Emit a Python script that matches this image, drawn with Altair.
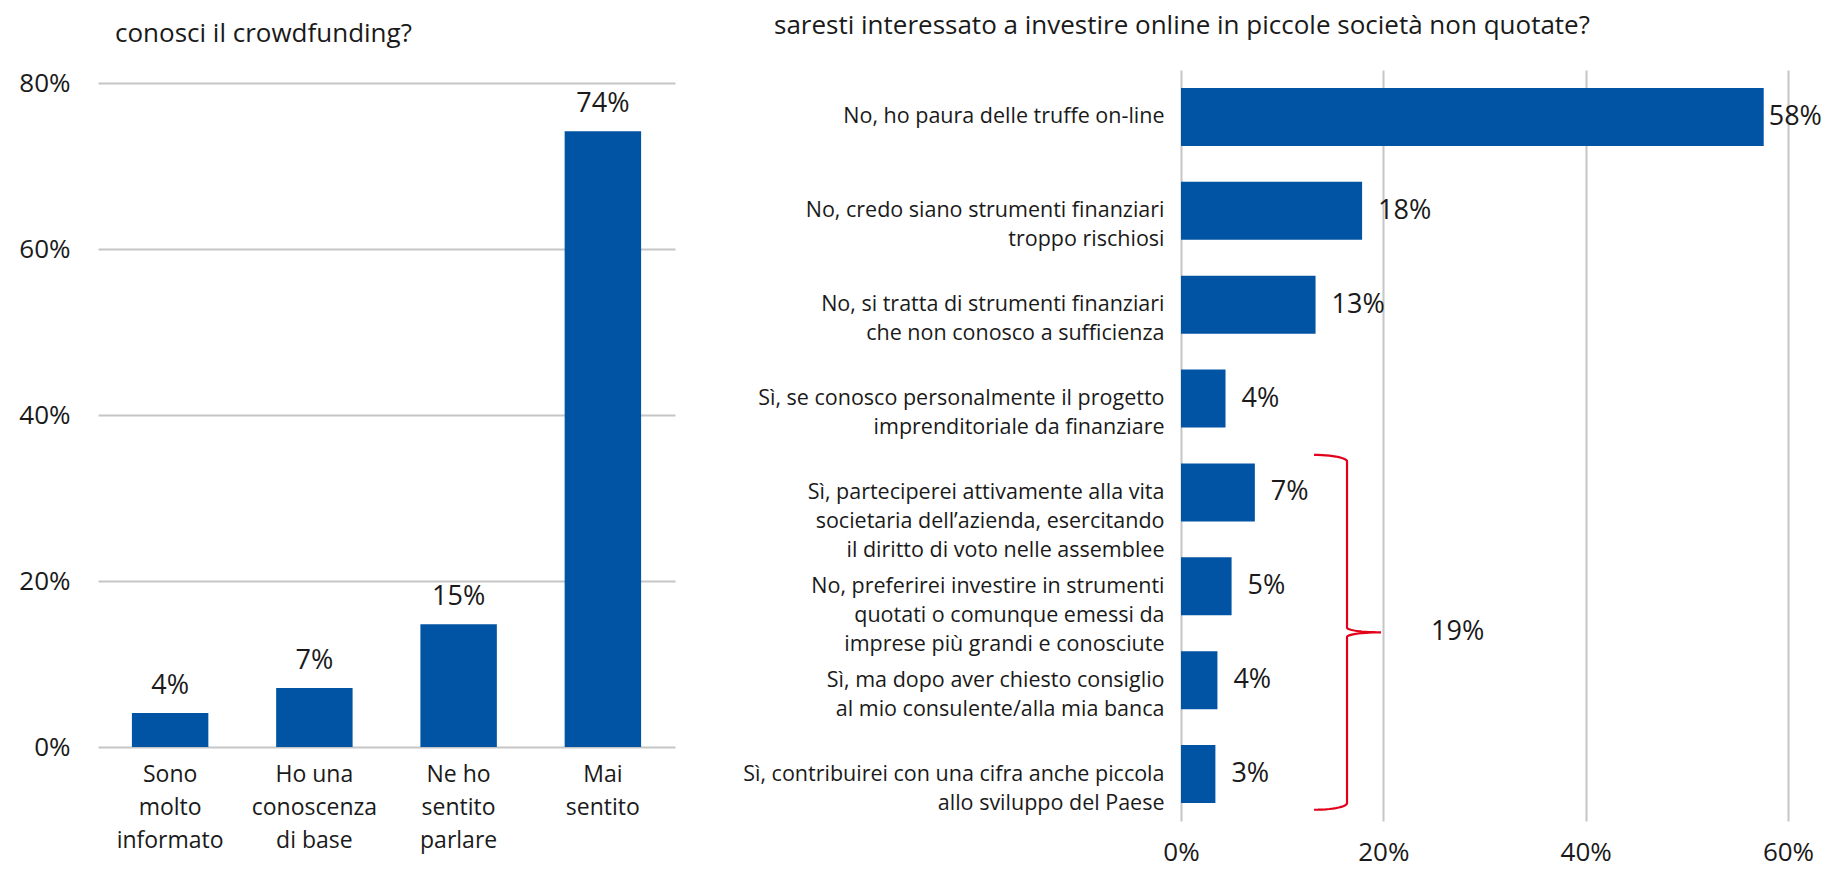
import json
import altair as alt
import pandas as pd
import numpy as np

# ---------------- data ----------------
know_cats = ["Sono|molto|informato", "Ho una|conoscenza|di base", "Ne ho|sentito|parlare", "Mai|sentito"]
know_vals = [0.041, 0.071, 0.148, 0.742]

invest_cats = [
    "No, ho paura delle truffe on-line",
    "No, credo siano strumenti finanziari|troppo rischiosi\u00a0\u00a0",
    "No, si tratta di strumenti finanziari|che non conosco a sufficienza",
    "Sì, se conosco personalmente il progetto|imprenditoriale da finanziare",
    "Sì, parteciperei attivamente alla vita|societaria dell’azienda, esercitando|il diritto di voto nelle assemblee\u00a0",
    "No, preferirei investire in strumenti|quotati o comunque emessi da\u00a0|imprese più grandi e conosciute\u00a0",
    "Sì, ma dopo aver chiesto consiglio|al mio consulente/alla mia banca",
    "Sì, contribuirei con una cifra anche piccola|allo sviluppo del Paese\u00a0\u00a0",
]
invest_vals = [0.576, 0.179, 0.133, 0.044, 0.073, 0.050, 0.036, 0.034]

# bracketed group (rows 4..7)
group_first, group_last = 4, 7

BLUE = "#0054A3"
RED = "#E2001A"
TEXT = "#1a1a1a"
GRID = "#c6c6c6"
FONT = "Open Sans"

df_left = pd.DataFrame({"cat": know_cats, "v": know_vals})
n_rows = len(invest_cats)
df_right = pd.DataFrame({"cat": invest_cats, "v": invest_vals, "row": list(range(n_rows))})

# ---------------- left chart ----------------
left_x = alt.X(
    "cat:N", sort=know_cats,
    scale=alt.Scale(paddingInner=0.47, paddingOuter=0.235),
    axis=alt.Axis(title=None, labelExpr="split(datum.label, '|')", labelAngle=0,
                  labelFontSize=23, labelLineHeight=33, labelPadding=16,
                  ticks=False, domain=False, labelColor=TEXT, labelLimit=300),
)
left_y = alt.Y(
    "v:Q",
    scale=alt.Scale(domain=[0, 0.8157], nice=False, zero=True),
    axis=alt.Axis(values=[0, 0.2, 0.4, 0.6, 0.8], format=".0%", title=None,
                  grid=True, gridColor=GRID, gridWidth=2, domain=False, ticks=False,
                  labelPadding=28, labelFontSize=26, labelFlush=False, labelColor=TEXT,
                  minExtent=85, maxExtent=85),
)
left_base = alt.Chart(df_left).encode(x=left_x, y=left_y)
left_bars = left_base.mark_bar(color=BLUE)
left_vals = left_base.mark_text(dy=-27, baseline="middle", fontSize=27, color=TEXT, font=FONT).encode(
    text=alt.Text("v:Q", format=".0%"))
left = alt.layer(left_bars, left_vals).properties(
    width=577, height=677,
    title=alt.TitleParams("conosci il crowdfunding?", anchor="start", frame="group", dx=17,
                          offset=23, fontSize=26, fontWeight="normal", color=TEXT, font=FONT),
)

# ---------------- right chart ----------------
xs = alt.Scale(domain=[0, 0.6], nice=False, zero=True)
yq = alt.Scale(domain=[0, n_rows], reverse=True, nice=False, zero=False)

x_axis = alt.Axis(values=[0, 0.2, 0.4, 0.6], format=".0%", title=None, grid=True,
                  gridColor=GRID, gridWidth=2, domain=False, ticks=False, labelFontSize=26,
                  labelPadding=18, labelFlush=False, labelColor=TEXT)
label_expr = "split(" + json.dumps(invest_cats, ensure_ascii=False) + "[floor(datum.value)], '|')"
y_axis = alt.Axis(values=[i + 0.5 for i in range(n_rows)], labelExpr=label_expr, title=None,
                  labelFontSize=21.5, labelLineHeight=29, labelPadding=17, labelLimit=425,
                  ticks=False, domain=False, grid=False, labelColor=TEXT, minExtent=442,
                  maxExtent=442, labelAlign="right", labelBaseline="middle",
                  labelOverlap=False, labelFlush=False)

pad = 0.191  # band padding (fraction of a row) on each side of a bar
rbase = alt.Chart(df_right).transform_calculate(
    r0=f"datum.row + {pad}", r1=f"datum.row + {1 - pad}", rc="datum.row + 0.5")
r_bars = rbase.mark_bar(color=BLUE).encode(
    x=alt.X("v:Q", scale=xs, axis=x_axis),
    x2=alt.datum(0),
    y=alt.Y("r0:Q", scale=yq, axis=y_axis),
    y2="r1:Q",
)
r_lab_small = rbase.transform_filter("datum.v < 0.5").mark_text(
    align="left", dx=16, baseline="middle", fontSize=27, color=TEXT, font=FONT).encode(
    x=alt.X("v:Q", scale=xs, axis=x_axis),
    y=alt.Y("rc:Q", scale=yq, axis=y_axis),
    text=alt.Text("v:Q", format=".0%"))
r_lab_big = rbase.transform_filter("datum.v >= 0.5").mark_text(
    align="left", dx=5, baseline="middle", fontSize=27, color=TEXT, font=FONT).encode(
    x=alt.X("v:Q", scale=xs, axis=x_axis),
    y=alt.Y("rc:Q", scale=yq, axis=y_axis),
    text=alt.Text("v:Q", format=".0%"))

# curly brace annotation (geometry in data units: x = share, y = row index)
bx_end, bx_stem, bx_tip = 0.1315, 0.1641, 0.1977
y_top = group_first + 0.10
y_bot = group_last + 1 - 0.12
y_mid = (y_top + y_bot) / 2
hook, tipc = 0.07, 0.05
t = np.linspace(0, np.pi / 2, 14)
s1x = bx_end + (bx_stem - bx_end) * np.sin(t)
s1y = y_top + hook * (1 - np.cos(t))
s2x = bx_stem + (bx_tip - bx_stem) * (1 - np.cos(t))
s2y = y_mid - tipc + tipc * np.sin(t)
s3x, s3y = s2x[::-1], 2 * y_mid - s2y[::-1]
s4x, s4y = s1x[::-1], 2 * y_mid - s1y[::-1]
brace_x = np.concatenate([s1x, s2x, s3x, s4x])
brace_y = np.concatenate([s1y, s2y, s3y, s4y])
df_brace = pd.DataFrame({"bx": brace_x, "by": brace_y, "i": np.arange(len(brace_x))})

group_total = sum(invest_vals[group_first:group_last + 1])
df_note = pd.DataFrame({"bx": [bx_tip], "by": [y_mid], "v": [group_total]})

brace = alt.Chart(df_brace).mark_line(color=RED, strokeWidth=2.2).encode(
    x=alt.X("bx:Q", scale=xs, axis=x_axis),
    y=alt.Y("by:Q", scale=yq, axis=y_axis),
    order="i:Q",
)
note = alt.Chart(df_note).mark_text(align="left", dx=50, baseline="middle", fontSize=27,
                                    color=TEXT, font=FONT).encode(
    x=alt.X("bx:Q", scale=xs, axis=x_axis),
    y=alt.Y("by:Q", scale=yq, axis=y_axis),
    text=alt.Text("v:Q", format=".0%"),
)

right = alt.layer(r_bars, r_lab_small, r_lab_big, brace, note).properties(
    width=607, height=751,
    title=alt.TitleParams("saresti interessato a investire online in piccole società non quotate?",
                          anchor="start", frame="group", dx=-407, offset=31, fontSize=26,
                          fontWeight="normal", color=TEXT, font=FONT),
)

chart = alt.hconcat(left, right, spacing=64).properties(
    padding={"left": 5, "top": 5, "right": 2, "bottom": 5}
).configure(font=FONT).configure_view(strokeWidth=0).configure_axis(labelFont=FONT)

chart.save("out.html", embed_options={"renderer": "svg", "actions": False})
